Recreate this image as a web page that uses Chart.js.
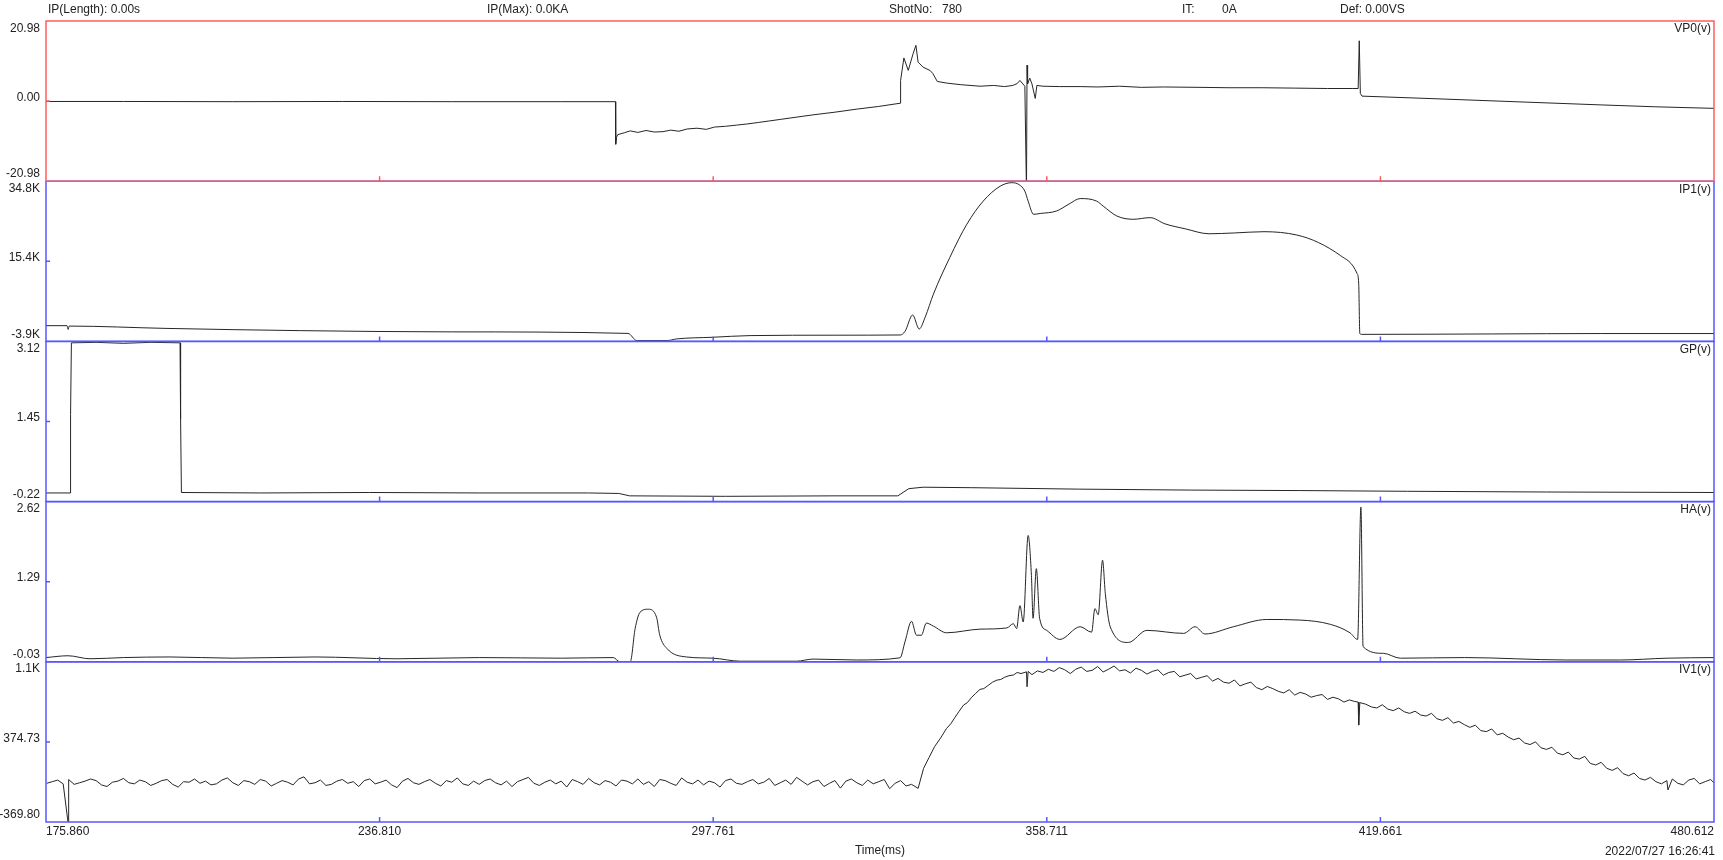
<!DOCTYPE html>
<html>
<head>
<meta charset="utf-8">
<title>Shot 780</title>
<script src="https://cdn.jsdelivr.net/npm/chart.js@4.4.1/dist/chart.umd.min.js"></script>
<style>
    body { margin: 0; background: #fff; }
    #wrap { position: relative; width: 1723px; height: 860px; font: 12px "Liberation Sans", Arial, sans-serif; color: #222; }
    #wrap canvas { position: absolute; left: 0; top: 0; }
    .txt { position: absolute; line-height: 14px; white-space: pre; }
</style>
</head>
<body>
<div id="wrap">
    <canvas id="shotChart" width="1723" height="860"></canvas>
    <div class="txt" style="left:48px; top:2px">IP(Length): 0.00s</div>
    <div class="txt" style="left:487px; top:2px">IP(Max): 0.0KA</div>
    <div class="txt" style="left:889px; top:2px">ShotNo:</div>
    <div class="txt" style="left:942px; top:2px">780</div>
    <div class="txt" style="left:1182px; top:2px">IT:</div>
    <div class="txt" style="left:1222px; top:2px">0A</div>
    <div class="txt" style="left:1340px; top:2px">Def: 0.00VS</div>
    <div class="txt" style="right:8px; top:844px">2022/07/27 16:26:41</div>
</div>
<script>
// x axis (time, ms)
const xTickValues = [175.860, 236.810, 297.761, 358.711, 419.661, 480.612];
const xTickLabels = ['175.860', '236.810', '297.761', '358.711', '419.661', '480.612'];

// y tick labels, top / middle / bottom
const vp0TickLabels = ['20.98', '0.00', '-20.98'];
const ip1TickLabels = ['34.8K', '15.4K', '-3.9K'];
const gpTickLabels = ['3.12', '1.45', '-0.22'];
const haTickLabels = ['2.62', '1.29', '-0.03'];
const iv1TickLabels = ['1.1K', '374.73', '-369.80'];

// VP0(v)
const vp0Time = [175.86, 190, 210, 230, 250, 270, 279.9, 279.95, 280.1, 280.3,
    281.5, 282.6, 284.0, 285.5, 287.0, 288.6, 290.0, 291.5, 293.0, 294.8,
    296.5, 298.0, 300.0, 302.0, 303.9, 306.0, 308.0, 310.0, 312.0, 314.0,
    316.0, 320.0, 324.0, 328.0, 331.9, 332.0, 332.6, 333.4, 334.3, 334.8,
    335.2, 336.1, 337.4, 337.9, 338.7, 340.5, 343.0, 346.5, 349.0, 351.0,
    352.5, 353.3, 353.8, 354.7, 355.0, 355.1, 355.2, 355.6, 356.0, 356.6,
    356.9, 358.0, 361.0, 364.8, 368.0, 372.0, 376.0, 380.0, 386.7, 392.0,
    398.0, 404.0, 410.0, 414.5, 415.6, 415.8, 416.0, 416.3, 430.0, 445.0,
    460.0, 470.0, 480.61];
const vp0Values = [-0.1, -0.1, -0.15, -0.1, -0.15, -0.15, -0.15, -11.3, -9.5, -8.8,
    -8.3, -7.8, -8.2, -7.7, -8.1, -8.0, -7.6, -7.9, -7.3, -7.1,
    -7.4, -6.8, -6.6, -6.3, -6.0, -5.6, -5.2, -4.8, -4.4, -4.0,
    -3.6, -2.9, -2.1, -1.4, -0.56, 5.4, 11.3, 8.05, 12.5, 14.6,
    10.2, 8.9, 8.0, 7.2, 5.15, 4.7, 4.3, 3.9, 4.1, 3.8,
    4.1, 4.6, 5.4, 3.9, -24, 9.4, 4.5, 6.0, 4.5, 0.7,
    4.1, 3.9, 3.8, 3.8, 3.7, 3.9, 3.6, 3.7, 3.6, 3.5,
    3.5, 3.4, 3.3, 3.3, 3.3, 15.8, 2.0, 1.3, 0.6, -0.2,
    -1.0, -1.5, -1.9];

// IP1(v), in K
const ip1Time = [175.86, 179.7, 179.9, 180.1, 197.8, 222.3, 250, 282.2, 283.8, 289.3,
    291.1, 297.7, 304.5, 320, 331.9, 332.8, 334.2, 335.4, 336.5, 338.0,
    341.0, 344.1, 347.1, 350.2, 352.3, 353.6, 354.7, 355.3, 356.3, 357.5,
    360.5, 362.8, 364.8, 367.8, 369.0, 371.5, 374.5, 377.6, 380.3, 384.0,
    388.35, 393.0, 398.4, 404.4, 408.4, 412.4, 415.4, 415.7, 415.9, 416.3,
    440, 460, 480.61];
const ip1ValuesK = [-0.1, -0.1, -1.0, -0.2, -0.76, -1.3, -1.6, -1.97, -3.7, -3.7,
    -3.3, -2.9, -2.5, -2.4, -2.35, -1.5, 2.47, -0.9, 2.0, 7.53,
    16.4, 24.4, 30.0, 33.6, 34.44, 34.0, 32.4, 30.0, 26.8, 27.0,
    27.6, 29.3, 30.6, 30.0, 28.8, 26.4, 25.6, 26.0, 24.5, 23.3,
    22.1, 22.3, 22.6, 21.8, 19.95, 16.8, 12.5, 10.0, -2.0, -2.2,
    -2.1, -2.0, -2.0];

// GP(v)
const gpTime = [175.86, 180.25, 180.35, 180.5, 185, 190, 195, 200.35, 200.45, 200.6,
    215, 235, 255, 275, 280.5, 282.5, 300, 320, 331.5, 333.5,
    336.1, 345, 364.5, 385, 405, 424.6, 450, 480.61];
const gpValues = [-0.04, -0.04, 1.6, 3.09, 3.10, 3.08, 3.10, 3.09, 1.5, -0.03,
    -0.04, -0.03, -0.04, -0.04, -0.05, -0.10, -0.11, -0.10, -0.10, 0.05,
    0.08, 0.07, 0.04, 0.02, 0.01, -0.005, -0.02, -0.03];

// HA(v)
const haTime = [175.86, 179.9, 183.9, 190, 198.5, 210, 225, 240, 255, 270,
    279.5, 280.7, 282.6, 283.5, 284.4, 285.9, 287.4, 288.0, 289.3, 292.9,
    297.7, 302.7, 313.0, 316.0, 324.0, 331.9, 332.8, 334.0, 334.9, 335.8,
    336.7, 338.0, 340.4, 346.5, 351.4, 352.6, 353.2, 353.8, 354.4, 355.3,
    355.9, 356.2, 356.8, 357.4, 358.7, 361.1, 364.8, 366.9, 367.5, 368.1,
    368.9, 369.4, 370.3, 373.6, 377.0, 383.7, 385.8, 387.6, 392.8, 398.9,
    405.0, 410.5, 414.1, 415.5, 416.1, 416.5, 420.2, 423.3, 435, 453.6,
    463.5, 472, 480.61];
const haValues = [0.04, 0.07, 0.02, 0.04, 0.05, 0.03, 0.05, 0.02, 0.04, 0.03,
    0.04, -0.03, -0.03, 0.52, 0.79, 0.84, 0.71, 0.41, 0.19, 0.05,
    0.03, -0.02, -0.02, 0.015, 0.0, 0.036, 0.30, 0.64, 0.41, 0.41,
    0.61, 0.56, 0.45, 0.51, 0.53, 0.60, 0.52, 0.90, 0.63, 2.06,
    1.40, 0.69, 1.51, 0.69, 0.49, 0.34, 0.55, 0.46, 0.85, 0.75,
    1.65, 1.10, 0.55, 0.29, 0.49, 0.44, 0.55, 0.43, 0.55, 0.67,
    0.66, 0.59, 0.45, 0.34, 2.53, 0.22, 0.11, 0.03, 0.04, 0.0,
    0.0, 0.03, 0.04];

// IV1(v)
const iv1Time = [176, 177, 178, 179, 179.9, 180, 181, 182, 183, 184,
    185, 186, 187, 188, 189, 190, 191, 192, 193, 194,
    195, 196, 197, 198, 199, 200, 201, 202, 203, 204,
    205, 206, 207, 208, 209, 210, 211, 212, 213, 214,
    215, 216, 217, 218, 219, 220, 221, 222, 223, 224,
    225, 226, 227, 228, 229, 230, 231, 232, 233, 234,
    235, 236, 237, 238, 239, 240, 241, 242, 243, 244,
    245, 246, 247, 248, 249, 250, 251, 252, 253, 254,
    255, 256, 257, 258, 259, 260, 261, 262, 263, 264,
    265, 266, 267, 268, 269, 270, 271, 272, 273, 274,
    275, 276, 277, 278, 279, 280, 281, 282, 283, 284,
    285, 286, 287, 288, 289, 290, 291, 292, 293, 294,
    295, 296, 297, 298, 299, 300, 301, 302, 303, 304,
    305, 306, 307, 308, 309, 310, 311, 312, 313, 314,
    315, 316, 317, 318, 319, 320, 321, 322, 323, 324,
    325, 326, 327, 328, 329, 330, 331, 332, 333, 334,
    335.2, 336.2, 337.2, 338.2, 339.3, 340.4, 341.2, 341.9, 342.7, 343.5,
    344.2, 345.0, 345.7, 346.5, 347.2, 348.0, 348.8, 349.6, 350.3, 351.0,
    351.8, 352.6, 353.3, 354.0, 355.0, 355.1, 355.3, 356, 357, 358,
    359,
    360, 361, 362, 363, 364, 365, 366, 367, 368, 369,
    370, 371, 372, 373, 374, 375, 376, 377, 378, 379,
    380, 381, 382, 383, 384, 385, 386, 387, 388, 389,
    390, 391, 392, 393, 394, 395, 396, 397, 398, 399,
    400, 401, 402, 403, 404, 405, 406, 407, 408, 409,
    410, 411, 412, 413, 414, 415,
    415.6, 415.7, 415.9,
    417, 418, 419, 420, 421, 422, 423, 424, 425, 426,
    427, 428, 429, 430, 431, 432, 433, 434, 435, 436,
    437, 438, 439, 440, 441, 442, 443, 444, 445, 446,
    447, 448, 449, 450, 451, 452, 453, 454, 455, 456,
    457, 458, 459, 460, 461, 462, 463, 464, 465, 466,
    467, 468, 469, 470, 471, 472,
    472.2, 473, 474, 475, 476, 477, 478, 479, 480, 480.6];
const iv1Values = [-10, 5, 20, -15, -380, 25, -20, -5, 10, 30,
    15, -25, -40, 0, 10, 35, -5, -15, 20, 5,
    -30, -10, 15, 25, -20, -45, 5, 0, 30, -10,
    10, -25, -15, 20, 40, -5, -30, 15, 5, -20,
    25, 10, -35, -10, 15, 0, -25, 30, 50, -15,
    -5, 20, -30, -20, 10, 25, -10, 5, -40, 15,
    30, -15, 0, 20, -25, -50, 10, 35, -5, -20,
    5, 25, -10, -35, 15, 0, 40, -15, -30, 10,
    -20, 15, 30, -5, -25, 10, -40, 5, 25, 45,
    -10, -30, 0, 20, -15, 10, -45, 25, 5, -20,
    35, -5, -25, 15, 0, -35, 20, 10, -15, 30,
    -20, 5, -40, 25, 15, -10, -30, 40, 0, -15,
    20, -25, 10, -5, -45, 15, 30, -10, -20, 5,
    25, -15, 0, 35, -30, -5, 20, -20, 45, 10,
    -25, 5, 20, -40, -10, 15, -55, 10, 30, -5,
    -30, 20, -15, 5, 25, -60, -10, 15, -35, -20,
    -57, 129, 230, 330, 410, 500, 545, 600, 660, 717,
    740, 790, 825, 863, 870, 900, 930, 949, 955, 975,
    990, 996, 1020, 1010, 1026, 887, 1030, 1000, 1035, 1020,
    1050,
    1030, 1065, 1045, 1010, 1050, 1070, 1030, 1040, 1075, 1025,
    1050, 1080, 1035, 1045, 1015, 1060, 1040, 1005, 1030, 1045,
    995, 1020, 1030, 980, 995, 1010, 960, 975, 990, 940,
    965, 930, 920, 950, 895, 915, 930, 880, 860, 890,
    870, 845, 830, 860, 810, 835, 820, 790, 805, 815,
    770, 790, 775, 745, 765, 750,
    745, 531, 740,
    725, 700, 690, 720, 680, 665, 690, 655, 640, 660,
    625, 615, 640, 590, 575, 600, 550, 565, 535, 510,
    530, 480, 470, 495, 440, 455, 420, 395, 410, 365,
    350, 375, 320, 305, 325, 270, 255, 280, 225, 215,
    240, 175, 160, 185, 130, 110, 135, 80, 60, 85,
    35, 20, 45, 5, -15, 15,
    -72, 30, -10, -25, 20, 35, -15, 5, 25, -5];

const FONT = '"Liberation Sans", Arial, sans-serif';
const RED = 'rgb(255, 92, 92)';
const BLUE = 'rgb(88, 88, 255)';

const panels = [
    { id: 'yVP0', name: 'VP0(v)', min: -20.98, max: 20.98, labels: vp0TickLabels, frame: RED, time: vp0Time, values: vp0Values, smooth: false },
    { id: 'yIP1', name: 'IP1(v)', min: -3.9, max: 34.8, labels: ip1TickLabels, frame: BLUE, time: ip1Time, values: ip1ValuesK, smooth: true },
    { id: 'yGP', name: 'GP(v)', min: -0.22, max: 3.12, labels: gpTickLabels, frame: BLUE, time: gpTime, values: gpValues, smooth: false },
    { id: 'yHA', name: 'HA(v)', min: -0.03, max: 2.62, labels: haTickLabels, frame: BLUE, time: haTime, values: haValues, smooth: true },
    { id: 'yIV1', name: 'IV1(v)', min: -369.80, max: 1119.26, labels: iv1TickLabels, frame: BLUE, time: iv1Time, values: iv1Values, smooth: false }
];

Chart.defaults.font.family = FONT;
Chart.defaults.font.size = 12;
Chart.defaults.color = '#222';

// frames, inner ticks and channel names for each panel
const panelFrames = {
    id: 'panelFrames',
    afterDatasetsDraw(chart) {
        const ctx = chart.ctx;
        const xs = chart.scales.x;
        ctx.save();
        panels.slice().reverse().forEach(p => {
            const ys = chart.scales[p.id];
            ctx.strokeStyle = p.frame;
            ctx.lineWidth = 1.5;
            ctx.strokeRect(xs.left, ys.top, xs.right - xs.left, ys.bottom - ys.top);

            ctx.beginPath();
            const midY = ys.getPixelForValue((ys.min + ys.max) / 2);
            ctx.moveTo(xs.left, midY);
            ctx.lineTo(xs.left + 4, midY);
            xs.ticks.forEach(t => {
                const px = xs.getPixelForValue(t.value);
                if (px <= xs.left + 1 || px >= xs.right - 1) return;
                ctx.moveTo(px, ys.bottom);
                ctx.lineTo(px, ys.bottom - 5);
            });
            ctx.stroke();

            ctx.fillStyle = '#222';
            ctx.font = '12px ' + FONT;
            ctx.textAlign = 'right';
            ctx.textBaseline = 'middle';
            ctx.fillText(p.name, xs.right - 3, ys.top + 8);
        });
        ctx.restore();
    }
};

const scales = {
    x: {
        type: 'linear',
        min: 175.860,
        max: 480.612,
        grid: { display: false, drawTicks: false },
        border: { display: false },
        afterBuildTicks: axis => { axis.ticks = xTickValues.map(v => ({ value: v })); },
        afterFit: axis => { axis.height = 38; },
        ticks: {
            autoSkip: false,
            maxRotation: 0,
            align: 'inner',
            padding: 2,
            callback: (value, index) => xTickLabels[index]
        },
        title: { display: true, text: 'Time(ms)', padding: { top: 0, bottom: 2 }, font: { size: 12 } }
    }
};

panels.forEach((p, i) => {
    scales[p.id] = {
        type: 'linear',
        position: 'left',
        stack: 'shot',
        stackWeight: 1,
        weight: panels.length - i,
        min: p.min,
        max: p.max,
        grid: { display: false, drawTicks: false },
        border: { display: false },
        afterBuildTicks: axis => {
            axis.ticks = [p.min, (p.min + p.max) / 2, p.max].map(v => ({ value: v }));
        },
        afterFit: axis => { axis.width = 46; },
        ticks: {
            autoSkip: false,
            padding: 6,
            font: { size: 12, lineHeight: 0.6 },
            callback: (value, index) => {
                if (index === 0) return [p.labels[2], '', ''];
                if (index === 1) return [p.labels[1], ''];
                return ['', '', p.labels[0]];
            }
        }
    };
});

const ctx = document.getElementById('shotChart').getContext('2d');
const shotChart = new Chart(ctx, {
    type: 'line',
    data: {
        datasets: panels.map(p => ({
            label: p.name,
            data: p.time.map((t, i) => ({ x: t, y: p.values[i] })),
            yAxisID: p.id,
            xAxisID: 'x',
            borderColor: '#262626',
            borderWidth: 1,
            pointRadius: 0,
            tension: 0,
            cubicInterpolationMode: p.smooth ? 'monotone' : 'default'
        }))
    },
    options: {
        responsive: false,
        animation: false,
        layout: { padding: { top: 21, right: 9, bottom: 0, left: 0 } },
        plugins: {
            legend: { display: false },
            tooltip: { enabled: false }
        },
        scales: scales
    },
    plugins: [panelFrames]
});
</script>
</body>
</html>
